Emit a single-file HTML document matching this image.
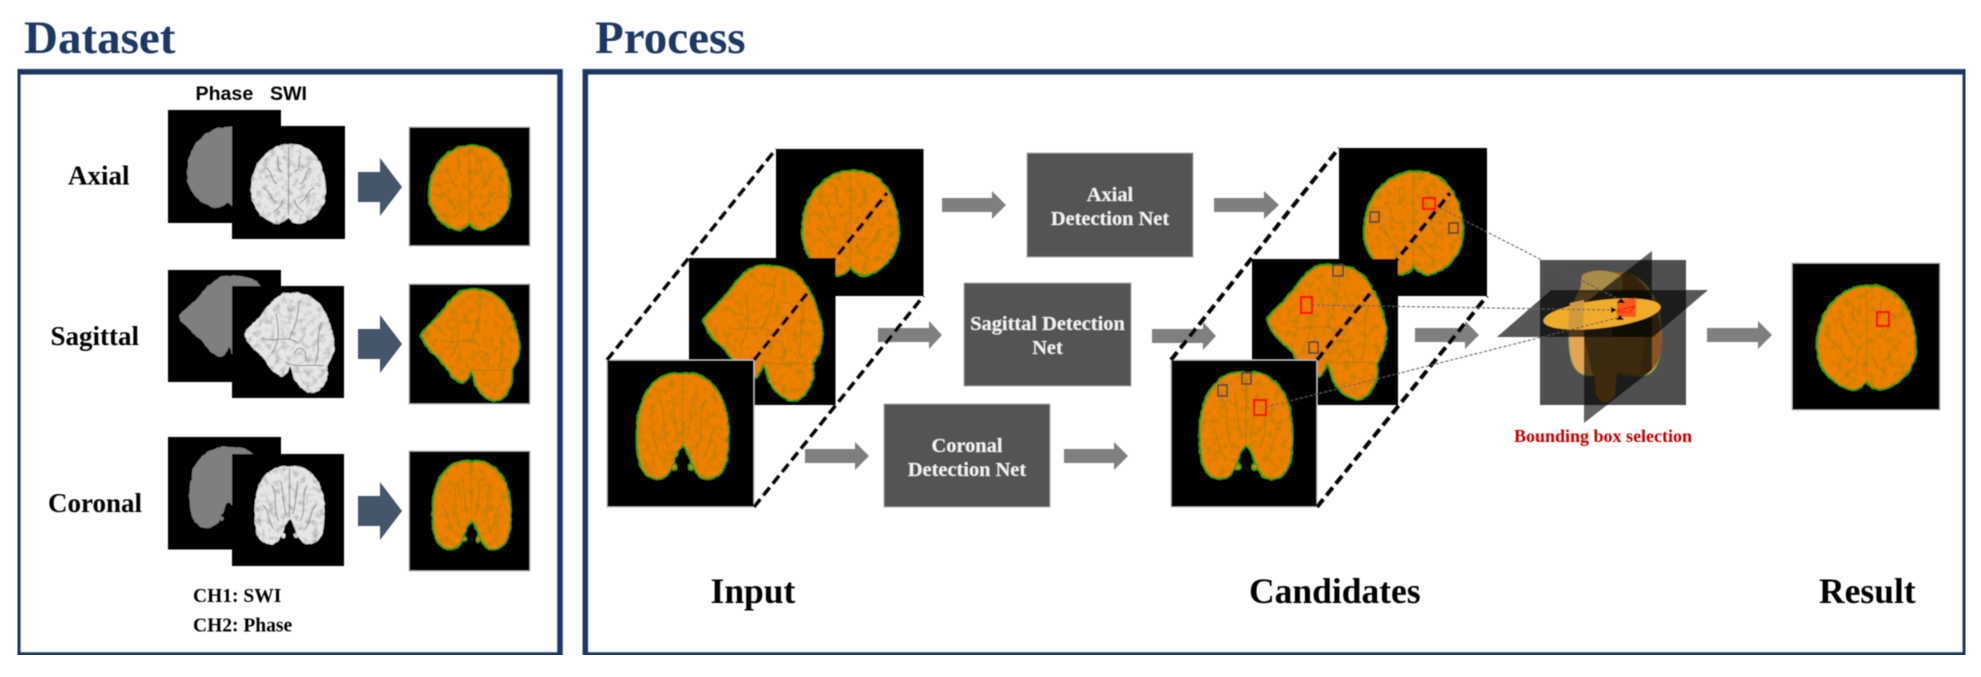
<!DOCTYPE html>
<html><head><meta charset="utf-8"><style>
html,body{margin:0;padding:0;background:#fff;width:1981px;height:677px;overflow:hidden}
svg{display:block}
text{font-family:"Liberation Serif",serif;font-weight:bold}
.sans{font-family:"Liberation Sans",sans-serif}
.b{vector-effect:non-scaling-stroke}
.o{fill:#f08000;stroke:#3a9c10;stroke-width:2}
.os{fill:none;stroke:#9a7a14;stroke-width:1.2;opacity:.55}
.g{fill:#7f7f7f;stroke:none}
.w{fill:#e6e6e6;stroke:none}
.ws{fill:none;stroke:#808080;stroke-width:1.2;opacity:.7}
.sq{fill:#000}
.sqb{fill:#000;stroke:#bdbdbd;stroke-width:1}
.net{fill:#575353;stroke:#a8a8a8;stroke-width:1}
.nt{fill:#f2f2f2;font-size:20.4px;text-anchor:middle}
.lab{font-size:27px;fill:#000}
.hd{font-size:47px;fill:#1f3864}
.big{font-size:35.5px;fill:#000}
.ar{fill:#44546a}
.ga{fill:#7f7f7f}
.dl{stroke:#000;stroke-width:3.5;stroke-dasharray:10 5;fill:none}
.dt{stroke:#555;stroke-width:1;stroke-dasharray:3 2;fill:none}
.rb{fill:none;stroke:#ff0000;stroke-width:2.2}
.db{fill:none;stroke:#444;stroke-width:1.6}
</style></head><body>
<svg width="1981" height="677" viewBox="0 0 1981 677" xmlns="http://www.w3.org/2000/svg">
<defs>
<filter id="bl" x="0" y="0" width="100%" height="100%"><feGaussianBlur stdDeviation="0.45"/></filter>
<filter id="to" x="-6%" y="-6%" width="112%" height="112%" color-interpolation-filters="sRGB">
<feTurbulence type="fractalNoise" baseFrequency="0.16" numOctaves="2" seed="4" result="n"/>
<feDisplacementMap in="SourceGraphic" in2="n" scale="2.500" xChannelSelector="R" yChannelSelector="G" result="d"/>
<feColorMatrix in="n" type="matrix" values="0 0 0 0 .5  0 0 0 0 .5  0 0 0 0 .05  1.1 0 0 0 -.5" result="c"/>
<feComposite in="c" in2="d" operator="in" result="t"/>
<feMerge><feMergeNode in="d"/><feMergeNode in="t"/></feMerge>
</filter>
<filter id="tw" x="-6%" y="-6%" width="112%" height="112%" color-interpolation-filters="sRGB">
<feTurbulence type="fractalNoise" baseFrequency="0.16" numOctaves="2" seed="9" result="n"/>
<feDisplacementMap in="SourceGraphic" in2="n" scale="2.500" xChannelSelector="R" yChannelSelector="G" result="d"/>
<feColorMatrix in="n" type="matrix" values="0 0 0 0 .5  0 0 0 0 .5  0 0 0 0 .5  1.3 0 0 0 -.6" result="c"/>
<feComposite in="c" in2="d" operator="in" result="t"/>
<feMerge><feMergeNode in="d"/><feMergeNode in="t"/></feMerge>
</filter>
<filter id="rg" x="-6%" y="-6%" width="112%" height="112%" color-interpolation-filters="sRGB">
<feTurbulence type="fractalNoise" baseFrequency="0.12" numOctaves="2" seed="2" result="n"/>
<feDisplacementMap in="SourceGraphic" in2="n" scale="3" xChannelSelector="R" yChannelSelector="G"/>
</filter>
<symbol id="ax" viewBox="0 0 100 100" preserveAspectRatio="none" overflow="visible"><path class="b" d="M50 1C68-1 84 8 92 24C98 36 100 50 100 58C100 76 88 92 68 98C60 100 54 96 50 91C46 96 40 100 32 98C12 92 0 76 0 58C0 40 6 26 16 16C26 6 38 1 50 1Z"/></symbol>
<symbol id="axs" viewBox="0 0 100 100" preserveAspectRatio="none" overflow="visible"><path class="b" d="M50 4L50 88M20 30C30 35 25 45 35 50M15 55C25 55 25 70 35 72M80 30C70 35 75 45 65 50M85 55C75 55 75 70 65 72M35 15C38 25 32 30 42 35M65 15C62 25 68 30 58 35M30 85C35 78 40 80 42 70M70 85C65 78 60 80 58 70"/></symbol>
<symbol id="sg" viewBox="0 0 100 100" preserveAspectRatio="none" overflow="visible"><path class="b" d="M0 40C6 32 16 26 23 17C30 8 38 1 46 0C58-1 68 0 76 5C88 13 95 28 99 45C101 58 96 66 91 72C94 80 90 92 80 98C72 101 62 96 55 85C53 80 52 74 50 73C47 80 44 84 39 82C30 78 26 70 19 62C12 56 4 52 0 40Z"/></symbol>
<symbol id="sgs" viewBox="0 0 100 100" preserveAspectRatio="none" overflow="visible"><path class="b" d="M20 45C35 50 45 40 60 50M55 60C60 50 70 55 68 68M35 20C40 40 38 50 30 60M60 8C60 25 55 35 50 45M85 30C78 45 85 55 78 70M45 68C55 75 70 70 88 72"/></symbol>
<symbol id="co" viewBox="0 0 100 100" preserveAspectRatio="none" overflow="visible"><path class="b" d="M50 2C62-1 80 4 91 22C99 36 100 50 99 70C98 84 94 98 78 99C68 100 62 92 58 80L54 72L50 68L46 72L42 80C38 92 32 100 22 99C6 98 2 84 1 70C0 50 1 36 9 22C20 4 38-1 50 2Z"/><circle cx="41" cy="88" r="2.6"/><circle cx="59" cy="88" r="2.6"/></symbol>
<symbol id="cos" viewBox="0 0 100 100" preserveAspectRatio="none" overflow="visible"><path class="b" d="M50 4L50 66M25 25C35 40 25 55 35 70M75 25C65 40 75 55 65 70M12 50C22 55 18 70 28 80M88 50C78 55 82 70 72 80M38 20C42 35 40 50 46 62M62 20C58 35 60 50 54 62"/></symbol>
</defs>
<rect width="1981" height="677" fill="#fff"/>
<g filter="url(#bl)">
<text x="24" y="53" class="hd">Dataset</text>
<text x="595" y="53" class="hd">Process</text>
<rect x="17.800" y="71.800" width="542.200" height="583.200" fill="none" stroke="#1f3864" stroke-width="5.500"/>
<rect x="585.300" y="71.800" width="1380" height="583.200" fill="none" stroke="#1f3864" stroke-width="5.500"/>

<text x="195.500" y="100" class="sans" font-size="19.600" fill="#000">Phase</text>
<text x="270" y="100" class="sans" font-size="19.600" fill="#000">SWI</text>
<text x="68" y="184.500" class="lab">Axial</text>
<text x="50.500" y="345" class="lab">Sagittal</text>
<text x="48" y="512" class="lab">Coronal</text>
<text x="193" y="602" font-size="19.500" fill="#000">CH1: SWI</text>
<text x="193" y="631.500" font-size="19.500" fill="#000">CH2: Phase</text>

<!-- Dataset row 1 -->
<rect class="sq" x="168" y="110" width="113" height="113"/>
<g filter="url(#rg)"><use href="#ax" class="g" x="187" y="126" width="81" height="83"/></g>
<rect class="sq" x="232" y="126" width="113" height="113"/>
<g filter="url(#tw)"><use href="#ax" class="w" x="251" y="143.500" width="75" height="81.500"/></g>
<use href="#axs" class="ws" x="251" y="143.500" width="75" height="81.500"/>
<polygon class="ar" points="358,172 380,172 380,158 402,187 380,216 380,202 358,202"/>
<rect class="sqb" x="409" y="127" width="121" height="119"/>
<g filter="url(#to)"><use href="#ax" class="o" x="429" y="145" width="81" height="86"/></g>
<use href="#axs" class="os" x="429" y="145" width="81" height="86"/>
<!-- row 2 -->
<rect class="sq" x="168" y="270" width="113" height="112"/>
<g filter="url(#rg)"><use href="#sg" class="g" x="179" y="276" width="100" height="98"/></g>
<rect class="sq" x="232" y="286" width="112" height="112"/>
<g filter="url(#tw)"><use href="#sg" class="w" x="244" y="293" width="91" height="101"/></g>
<use href="#sgs" class="ws" x="244" y="293" width="91" height="101"/>
<polygon class="ar" points="358,329 380,329 380,315 402,344 380,373 380,359 358,359"/>
<rect class="sqb" x="409" y="284" width="121" height="120"/>
<g filter="url(#to)"><use href="#sg" class="o" x="421" y="290" width="99" height="112"/></g>
<use href="#sgs" class="os" x="421" y="290" width="99" height="112"/>
<!-- row 3 -->
<rect class="sq" x="168" y="437" width="113" height="112.500"/>
<g filter="url(#rg)"><use href="#co" class="g" x="189" y="446" width="80" height="83"/></g>
<rect class="sq" x="232" y="454" width="112" height="112"/>
<g filter="url(#tw)"><use href="#co" class="w" x="254" y="465" width="71" height="80"/></g>
<use href="#cos" class="ws" x="254" y="465" width="71" height="80"/>
<polygon class="ar" points="358,496 380,496 380,482 402,511 380,540 380,526 358,526"/>
<rect class="sqb" x="409" y="451" width="121" height="120"/>
<g filter="url(#to)"><use href="#co" class="o" x="432" y="460" width="79" height="90"/></g>
<use href="#cos" class="os" x="432" y="460" width="79" height="90"/>

<!-- Nets -->
<rect class="net" x="1027" y="153" width="166" height="104"/>
<text class="nt" x="1110" y="201">Axial</text><text class="nt" x="1110" y="225">Detection Net</text>
<rect class="net" x="964" y="283" width="167" height="103"/>
<text class="nt" x="1047.500" y="330">Sagittal Detection</text><text class="nt" x="1047.500" y="354">Net</text>
<rect class="net" x="884" y="404" width="166" height="103"/>
<text class="nt" x="967" y="452">Coronal</text><text class="nt" x="967" y="476">Detection Net</text>

<!-- Arrows -->
<polygon class="ga" points="942,198 992,198 992,191 1006,205 992,219 992,212 942,212"/>
<polygon class="ga" points="878,328 929,328 929,321 942,335 929,349 929,342 878,342"/>
<polygon class="ga" points="805,449 855,449 855,442 869,456 855,470 855,463 805,463"/>
<polygon class="ga" points="1064,449 1114,449 1114,442 1128,456 1114,470 1114,463 1064,463"/>
<polygon class="ga" points="1152,329 1203,329 1203,322 1216,336 1203,350 1203,343 1152,343"/>
<polygon class="ga" points="1214,198 1264,198 1264,191 1279,205 1264,219 1264,212 1214,212"/>
<polygon class="ga" points="1415,328 1465,328 1465,321 1479,335 1465,349 1465,342 1415,342"/>
<polygon class="ga" points="1707,328 1758,328 1758,321 1772,335 1758,349 1758,342 1707,342"/>

<!-- Input stack -->
<rect class="sq" x="776" y="149" width="147.500" height="147"/>
<g filter="url(#to)"><use href="#ax" class="o" x="802" y="170" width="97" height="107"/></g>
<use href="#axs" class="os" x="802" y="170" width="97" height="107"/>
<rect class="sq" x="689" y="258" width="146.500" height="147"/>
<g filter="url(#to)"><use href="#sg" class="o" x="703" y="266" width="120" height="136"/></g>
<use href="#sgs" class="os" x="703" y="266" width="120" height="136"/>
<rect class="sqb" x="607" y="360" width="147" height="147"/>
<g filter="url(#to)"><use href="#co" class="o" x="636" y="372" width="93" height="108"/></g>
<use href="#cos" class="os" x="636" y="372" width="93" height="108"/>
<path class="dl" d="M607 360L776 149M754 507L923.500 296M754 360L887 193"/>

<!-- Candidates stack -->
<rect class="sq" x="1339" y="148" width="148" height="148"/>
<g filter="url(#to)"><use href="#ax" class="o" x="1364" y="171" width="99" height="105"/></g>
<use href="#axs" class="os" x="1364" y="171" width="99" height="105"/>
<rect class="sq" x="1252" y="259" width="146" height="146"/>
<g filter="url(#to)"><use href="#sg" class="o" x="1267" y="265" width="120" height="136"/></g>
<use href="#sgs" class="os" x="1267" y="265" width="120" height="136"/>
<rect class="sqb" x="1171" y="360" width="146" height="147"/>
<g filter="url(#to)"><use href="#co" class="o" x="1199" y="371" width="94" height="109"/></g>
<use href="#cos" class="os" x="1199" y="371" width="94" height="109"/>
<path class="dl" style="stroke-width:4" d="M1171 360L1339 148M1317 507L1487 296M1317 360L1450 193"/>
<rect class="rb" x="1423" y="198" width="12" height="11"/>
<rect class="db" x="1370" y="212" width="9" height="10"/>
<rect class="db" x="1449" y="223" width="9" height="10"/>
<rect class="rb" x="1301" y="297" width="11" height="16"/>
<rect class="db" x="1333" y="265" width="10" height="11"/>
<rect class="db" x="1309" y="342" width="9" height="11"/>
<rect class="rb" x="1254" y="400" width="12" height="15"/>
<rect class="db" x="1218" y="385" width="9" height="11"/>
<rect class="db" x="1242" y="373" width="9" height="11"/>

<!-- 3D composite -->
<rect x="1540" y="260" width="146" height="145" fill="#505050"/>
<use href="#co" x="1568" y="272" width="94" height="105" fill="#e2a552" stroke="#5f9a30" stroke-width="1"/>
<path d="M1620 272C1640 272 1660 300 1662 340C1662 365 1650 377 1630 377L1612 372L1612 272Z" fill="#8a5520"/>
<path d="M1582 275C1595 268 1610 270 1622 276L1622 292L1580 292Z" fill="#a88a4a"/>
<path d="M1584 337L1645 337L1640 376L1618 372L1612 392L1592 372Z" fill="#9a6e2a"/>
<path d="M1594 365L1617 365L1615 395Q1605 410 1596 395Z" fill="#a5702a"/>
<polygon points="1584,303.700 1652,251 1652,370 1584,423" fill="rgba(0,0,0,.62)"/>
<polygon points="1497,337 1551,290 1708,290 1653,337" fill="rgba(0,0,0,.66)"/>
<ellipse cx="1602" cy="314" rx="59" ry="14" transform="rotate(-7 1602 314)" fill="#efac2c"/>
<path d="M1570 303L1584 300L1583 330L1568 328Z" fill="#cf9a3a"/>
<polygon points="1617,300 1636,298 1636,317 1617,317" fill="#f8591f"/>
<polygon points="1619,310 1635,306 1630,312 1617,312" fill="none" stroke="#ff0000" stroke-width="1"/>
<polygon points="1621,298 1625,303 1617,303" fill="#000"/>
<polygon points="1611,307 1617,310 1611,313" fill="#000"/>
<polygon points="1620,315 1624,320 1616,320" fill="#000"/>
<path class="dt" d="M1440 208L1618 299M1312 305L1612 310M1266 407L1617 318"/>
<text x="1514" y="442" font-size="18" fill="#c00000">Bounding box selection</text>

<!-- Result -->
<rect class="sqb" x="1792" y="263" width="148" height="147"/>
<g filter="url(#to)"><use href="#ax" class="o" x="1817" y="285" width="99" height="106"/></g>
<use href="#axs" class="os" x="1817" y="285" width="99" height="106"/>
<rect class="rb" x="1877" y="312" width="12" height="14"/>

<text x="710.500" y="603" class="big">Input</text>
<text x="1249" y="603" class="big">Candidates</text>
<text x="1819" y="603" class="big">Result</text>
</g>
</svg>
</body></html>
